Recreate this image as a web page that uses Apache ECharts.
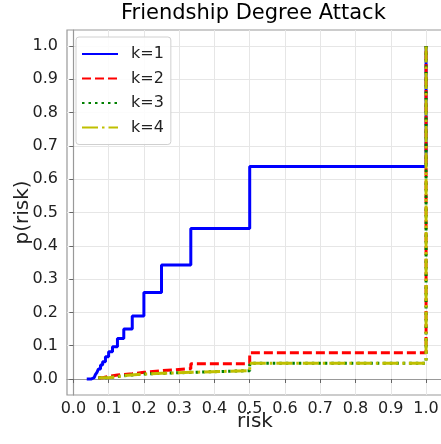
<!DOCTYPE html>
<html>
<head>
<meta charset="utf-8">
<script src="https://cdn.jsdelivr.net/npm/echarts@6/dist/echarts.min.js"></script>
<style>html,body{margin:0;padding:0;background:#fff}#c{width:441px;height:444px}</style>
</head>
<body>
<div id="c"></div>
<script>
var tickValues = [0, 0.1, 0.2, 0.3, 0.4, 0.5, 0.6, 0.7, 0.8, 0.9, 1.0];

var k1X = [0.038, 0.05, 0.059, 0.0625, 0.067, 0.071, 0.077, 0.083, 0.091, 0.1, 0.111, 0.125, 0.143, 0.167, 0.2, 0.25, 0.333, 0.5, 1.0];
var k1Y = [0.0, 0.004, 0.008, 0.013, 0.02, 0.03, 0.042, 0.052, 0.067, 0.082, 0.097, 0.122, 0.150, 0.189, 0.26, 0.342, 0.452, 0.638, 1.0];

var k2X = [0.071, 0.083, 0.1, 0.125, 0.167, 0.2, 0.25, 0.333, 0.5, 1.0];
var k2Y = [0.004, 0.008, 0.012, 0.016, 0.02, 0.025, 0.031, 0.046, 0.079, 1.0];

var k3X = [0.071, 0.1, 0.143, 0.2, 0.25, 0.333, 0.5, 1.0];
var k3Y = [0.004, 0.010, 0.015, 0.017, 0.020, 0.025, 0.047, 1.0];

var k4X = [0.071, 0.1, 0.143, 0.2, 0.25, 0.333, 0.5, 1.0];
var k4Y = [0.004, 0.010, 0.015, 0.017, 0.020, 0.025, 0.047, 1.0];

var names = ['k=1', 'k=2', 'k=3', 'k=4'];
var colors = ['#0000ff', '#ff0000', '#008000', '#bfbf00'];

function pairs(xs, ys) { return xs.map(function (x, i) { return [x, ys[i]]; }); }

var FONT = 'DejaVu Sans';
var chart = echarts.init(document.getElementById('c'), null, { renderer: 'canvas' });

var lineStyles = [
  { width: 3, type: 'solid' },
  { width: 3, type: [9, 4], cap: 'butt' },
  { width: 3, type: [2.5, 4], cap: 'butt' },
  { width: 3, type: [16, 4, 2.5, 4], cap: 'butt' }
];
var datasets = [pairs(k1X, k1Y), pairs(k2X, k2Y), pairs(k3X, k3Y), pairs(k4X, k4Y)];

chart.setOption({
  animation: false,
  backgroundColor: '#fff',
  title: {
    text: 'Friendship Degree Attack',
    left: 121, top: 3, padding: 0,
    textStyle: { fontFamily: FONT, fontSize: 21, fontWeight: 'normal', color: '#000' }
  },
  legend: {
    orient: 'vertical',
    left: 76, top: 37,
    padding: [9, 7, 9, 5],
    itemWidth: 36, itemHeight: 14, itemGap: 8.5,
    backgroundColor: 'rgba(255,255,255,0.85)',
    borderColor: '#d0d0d0', borderWidth: 1, borderRadius: 3,
    itemStyle: { opacity: 0 },
    textStyle: { fontFamily: FONT, fontSize: 16, color: '#222', padding: [0, 0, 0, 8] },
    data: names
  },
  grid: {
    left: 67, top: 30, right: -2, bottom: 49,
    containLabel: false, outerBoundsMode: 'none',
    show: true, borderColor: '#999', borderWidth: 1.2, backgroundColor: 'transparent'
  },
  xAxis: {
    type: 'value', min: -0.018, max: 1.048,
    name: 'risk', nameLocation: 'middle', nameGap: 17, nameMoveOverlap: false,
    nameTextStyle: { fontFamily: FONT, fontSize: 20, color: '#222' },
    axisLine: { show: true, lineStyle: { color: '#999', width: 1.2 } },
    axisTick: { show: true, length: 4, lineStyle: { color: '#666' }, customValues: tickValues },
    axisLabel: { customValues: tickValues, margin: 6, fontFamily: FONT, fontSize: 16, color: '#222',
      formatter: function (v) { return v.toFixed(1); } },
    splitLine: { show: true, lineStyle: { color: '#e6e6e6', width: 1 } }
  },
  yAxis: {
    type: 'value', min: -0.048, max: 1.048,
    name: 'p(risk)', nameLocation: 'middle', nameGap: 34, nameRotate: 90, nameMoveOverlap: false,
    nameTextStyle: { fontFamily: FONT, fontSize: 20, color: '#222' },
    axisLine: { show: true, lineStyle: { color: '#999', width: 1.2 } },
    axisTick: { show: true, length: 4, lineStyle: { color: '#666' }, customValues: tickValues },
    axisLabel: { customValues: tickValues, margin: 9, fontFamily: FONT, fontSize: 16, color: '#222',
      formatter: function (v) { return v.toFixed(1); } },
    splitLine: { show: true, lineStyle: { color: '#e6e6e6', width: 1 } }
  },
  series: names.map(function (n, i) {
    return {
      name: n, type: 'line', step: 'end', symbol: 'none', showSymbol: false,
      data: datasets[i],
      lineStyle: Object.assign({ color: colors[i] }, lineStyles[i]),
      itemStyle: { color: colors[i] },
      z: 2 + i
    };
  })
});
</script>
</body>
</html>
